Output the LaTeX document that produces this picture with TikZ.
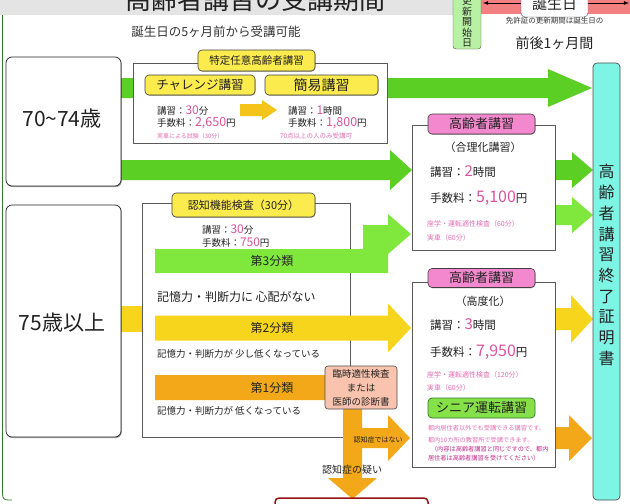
\documentclass[tikz,border=0pt]{standalone}
\usepackage{fontspec}
\setmainfont{Noto Sans CJK JP}
\usetikzlibrary{shadows}
\definecolor{grn}{HTML}{5CCF24}
\definecolor{lgrn}{HTML}{80E83C}
\definecolor{yel}{HTML}{F7D51C}
\definecolor{gold}{HTML}{F5C41A}
\definecolor{org}{HTML}{F2A818}
\definecolor{pnum}{HTML}{D9549E}
\definecolor{ptxt}{HTML}{E26EB2}
\definecolor{pdark}{HTML}{C02888}
\definecolor{lab}{HTML}{FCEB4C}
\definecolor{pinklab}{HTML}{F488CE}
\definecolor{senior}{HTML}{86E048}
\definecolor{turq}{HTML}{7EF4E4}
\definecolor{salmon}{HTML}{F9C3AE}
\definecolor{redband}{HTML}{F28080}
\definecolor{kgreen}{HTML}{B8F0A4}
\definecolor{gband}{HTML}{E4E4E4}
\definecolor{ink}{HTML}{222222}
\definecolor{bordergrn}{HTML}{2D7A2D}
\definecolor{darkred}{HTML}{9A1010}
\newcommand\jfs[1]{\fontsize{#1}{#1}\selectfont}
\newcommand\blkarrow[7]{\fill[#1] (#2,#5-#6) -- (#3,#5-#6) -- (#3,#5-#7) -- (#4,#5) -- (#3,#5+#7) -- (#3,#5+#6) -- (#2,#5+#6) -- cycle;}
\tikzset{
  every node/.style={inner sep=0pt, outer sep=0pt, text=ink},
  agebox/.style={draw=ink, line width=0.7pt, rounded corners=6pt, fill=white,
    drop shadow={shadow xshift=0.8pt, shadow yshift=-1.2pt, opacity=0.35, fill=black}},
  panel/.style={draw=black!65, line width=0.6pt, fill=white},
  ylab/.style={draw=black!75, line width=0.6pt, fill=lab, rounded corners=4pt,
    drop shadow={shadow xshift=0.5pt, shadow yshift=-0.8pt, opacity=0.3, fill=black}},
  plab/.style={draw=black!75, line width=0.6pt, fill=pinklab, rounded corners=4pt,
    drop shadow={shadow xshift=0.5pt, shadow yshift=-0.8pt, opacity=0.3, fill=black}},
  glab/.style={draw=bordergrn, line width=0.7pt, fill=senior, rounded corners=4pt},
  wtext/.style={anchor=west},
}
\begin{document}
\begin{tikzpicture}[x=1pt,y=-1pt]
\useasboundingbox (0,0) rectangle (630,504);
\clip (0,0) rectangle (630,504);
% top bands
\fill[gband] (0,0) rectangle (453,15);
\node[anchor=base, font=\jfs{26}] (title) at (255,9) {高齢者講習の受講期間};
\fill[redband] (481,0) rectangle (630,14);
\coordinate (dl) at (483,3);
\coordinate (dr) at (629,3);
\draw[black, line width=0.8pt, <->, >=latex] (dl) -- (dr);
\node[draw=black!70, fill=white, rounded corners=4pt, minimum width=67, minimum height=27, font=\jfs{15}] (tanjo) at (554.5,3.5) {\raisebox{-3pt}{誕生日}};
\node[draw=black!70, fill=kgreen, rounded corners=3pt, minimum width=28, minimum height=60] (kbox) at (467,19) {};
\node[align=center, font=\fontsize{10}{10.5}\selectfont] (ktext) at (467,22) {更\\新\\開\\始\\日};
\node[font=\jfs{7.5}, text=black!80] (menkyo) at (554.5,21) {免許証の更新期間は誕生日の};
\node[font=\jfs{14}] (zengo) at (554.5,43) {前後1ヶ月間};
\node[font=\jfs{12.5}, text=black!80] (kanou) at (216,32) {誕生日の5ヶ月前から受講可能};
% left border
\draw[bordergrn, line width=0.8pt] (2.5,15) -- (2.5,494) .. controls (2.5,498) and (4,500) .. (8,500) -- (12,500);
% arrows behind boxes
\blkarrow{grn}{121}{548}{592}{88}{10}{19}
\blkarrow{grn}{121}{390}{412}{170}{10}{20}
\fill[yel] (121,306) rectangle (145,332);
\blkarrow{grn}{550}{572}{593}{170}{10}{18}
\blkarrow{lgrn}{550}{572}{593}{215}{10}{18}
\blkarrow{yel}{550}{571}{593}{319}{11}{24}
\blkarrow{org}{550}{569}{592}{438}{11}{23}
% left age boxes
\node[agebox, minimum width=115, minimum height=129] (age1) at (63.5,121.5) {};
\node[font=\jfs{21}] (age1t) at (62,119) {70\textasciitilde74歳};
\node[agebox, minimum width=115, minimum height=232] (age2) at (63.5,321) {};
\node[font=\jfs{21}] (age2t) at (62,323) {75歳以上};
% special course box
\node[panel, minimum width=254, minimum height=80] (spbox) at (260,103) {};
\node[ylab, minimum width=117, minimum height=21, font=\jfs{10.5}] (splab) at (256.5,60.5) {特定任意高齢者講習};
\node[ylab, minimum width=110, minimum height=20, font=\jfs{12.5}] (chal) at (200,85) {チャレンジ講習};
\node[ylab, minimum width=113, minimum height=20, font=\jfs{14}] (kani) at (321.5,85) {簡易講習};
\blkarrow{gold}{240}{262}{277}{110}{6}{10}
\node[wtext] (c1) at (157,111) {\jfs{9.5}講習：{\color{pnum}\jfs{12}30}分};
\node[wtext] (c2) at (157,123) {\jfs{9.5}手数料：{\color{pnum}\jfs{12.5}2,650}円};
\node[wtext, font=\jfs{6}, text=ptxt] (c3) at (157,136) {実車による試験（30分）};
\node[wtext] (k1) at (288,111) {\jfs{9.5}講習：{\color{pnum}\jfs{12}1}時間};
\node[wtext] (k2) at (288,123) {\jfs{9.5}手数料：{\color{pnum}\jfs{12.5}1,800}円};
\node[wtext, font=\jfs{6.5}, text=ptxt] (k3) at (280,136) {70点以上の人のみ受講可};
% box 1
\node[panel, minimum width=143, minimum height=125] (box1) at (483.5,187.5) {};
\node[plab, minimum width=107, minimum height=20, font=\jfs{13}] (lab1) at (481.5,124) {高齢者講習};
\node[font=\jfs{11}] (g0) at (483,147) {（合理化講習）};
\node[wtext] (g1) at (430,172) {\jfs{11.5}講習：{\color{pnum}\jfs{15}2}時間};
\node[wtext] (g2) at (430,198) {\jfs{11.5}手数料：{\color{pnum}\jfs{16}5,100}円};
\node[wtext, font=\jfs{7}, text=ptxt] (g3) at (427,224) {座学・運転適性検査（60分）};
\node[wtext, font=\jfs{7}, text=ptxt] (g4) at (427,238) {実車（60分）};
% ninchi box
\node[panel, minimum width=208, minimum height=234] (ninchi) at (246,320) {};
\node[ylab, minimum width=143, minimum height=24, font=\jfs{11}] (nlab) at (243.5,205) {認知機能検査（30分）};
\node[wtext] (n1) at (202,230) {\jfs{9.5}講習：{\color{pnum}\jfs{12}30}分};
\node[wtext] (n2) at (202,242.5) {\jfs{9.5}手数料：{\color{pnum}\jfs{12}750}円};
\fill[lgrn] (155,249) -- (363,249) -- (363,225) -- (388,225) -- (388,214) -- (411,234) -- (388,254) -- (388,273) -- (155,273) -- cycle;
\node[font=\jfs{12}] (cat3) at (272,261) {第3分類};
\node[wtext, font=\jfs{12}] (cat3t) at (157,297) {記憶力・判断力に 心配がない};
\blkarrow{yel}{155}{388}{411}{328}{12.5}{24.5}
\node[font=\jfs{12}] (cat2) at (272,328) {第2分類};
\node[wtext, font=\jfs{9.5}] (cat2t) at (157,354) {記憶力・判断力が 少し低くなっている};
\fill[org] (155,375) -- (362,375) -- (362,428) -- (388,428) -- (388,415) -- (410,438) -- (388,461) -- (388,448) -- (362,448) -- (362,478) -- (377,478) -- (352.5,499) -- (328,478) -- (343,478) -- (343,400) -- (155,400) -- cycle;
\node[font=\jfs{12}] (cat1) at (272,388) {第1分類};
\node[wtext, font=\jfs{9.5}] (cat1t) at (157,411) {記憶力・判断力が 低くなっている};
\node[draw=black!70, fill=salmon, rounded corners=3pt, minimum width=72, minimum height=43, line width=0.6pt] (rinji) at (361,387.5) {};
\node[align=center, font=\fontsize{9.5}{14}\selectfont] (rinjit) at (361,388) {臨時適性検査\\または\\医師の診断書};
\node[font=\jfs{7}] (notd) at (378,440) {認知症ではない};
\node[font=\jfs{10}] (susp) at (352,470) {認知症の疑い};
% box 2
\node[panel, minimum width=143, minimum height=185] (box2) at (483.5,374.5) {};
\node[plab, minimum width=107, minimum height=19, font=\jfs{13}] (lab2) at (481.5,278) {高齢者講習};
\node[font=\jfs{11}] (h0) at (483,301) {（高度化）};
\node[wtext] (h1) at (430,325) {\jfs{11.5}講習：{\color{pnum}\jfs{15}3}時間};
\node[wtext] (h2) at (430,352) {\jfs{11.5}手数料：{\color{pnum}\jfs{16}7,950}円};
\node[wtext, font=\jfs{7}, text=ptxt] (h3) at (427,375) {座学・運転適性検査（120分）};
\node[wtext, font=\jfs{7}, text=ptxt] (h4) at (427,388) {実車（60分）};
\node[glab, minimum width=107, minimum height=20, font=\jfs{13}] (senior) at (481.5,408) {シニア運転講習};
\node[wtext, font=\jfs{6.2}, text=ptxt] (s1) at (428,428) {都内居住者以外でも受講できる講習です。};
\node[wtext, font=\jfs{6.2}, text=ptxt] (s2) at (428,440) {都内10カ所の教習所で受講できます。};
\node[wtext, font=\jfs{6.2}, text=pdark] (s3) at (431,449) {（内容は高齢者講習と同じですので、都内};
\node[wtext, font=\jfs{6.2}, text=pdark] (s4) at (428,458) {居住者は高齢者講習を受けてください）};
% column
\node[draw=black!70, line width=0.7pt, fill=turq, rounded corners=4pt, minimum width=27, minimum height=437] (col) at (606.5,281.5) {};
\node[align=center, font=\fontsize{16}{20.7}\selectfont] (colt) at (606.5,265) {高\\齢\\者\\講\\習\\終\\了\\証\\明\\書};
% bottom red box
\node[draw=darkred, line width=1.5pt, fill=white, rounded corners=4pt, minimum width=153, minimum height=30, anchor=north west] (redbox) at (275,498) {};
\end{tikzpicture}
\end{document}
